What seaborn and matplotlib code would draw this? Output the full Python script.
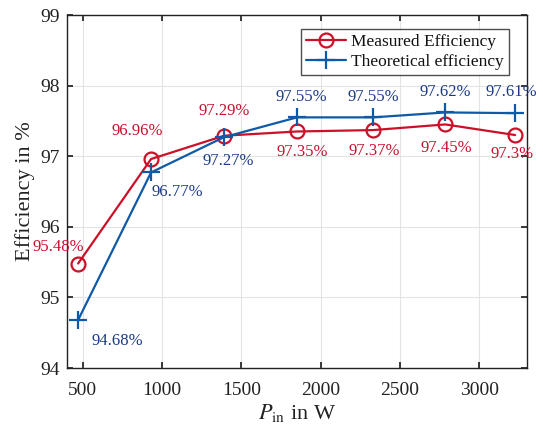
import numpy as np
import pandas as pd
import matplotlib
matplotlib.use("Agg")
import matplotlib.pyplot as plt
import seaborn as sns

# Input power (W) and efficiency (%)
p_in = [470, 930, 1390, 1850, 2330, 2785, 3225]
measured = [95.48, 96.96, 97.29, 97.35, 97.37, 97.45, 97.30]
theoretical = [94.68, 96.77, 97.27, 97.55, 97.55, 97.62, 97.61]

measured_labels = ["95.48%", "96.96%", "97.29%", "97.35%", "97.37%", "97.45%", "97.3%"]
theoretical_labels = ["94.68%", "96.77%", "97.27%", "97.55%", "97.55%", "97.62%", "97.61%"]

x_ticks = [500, 1000, 1500, 2000, 2500, 3000]
y_ticks = [94, 95, 96, 97, 98, 99]

RED = "#CC1028"
BLUE = "#0E5AA7"
RED_TXT = "#C8102E"
BLUE_TXT = "#1B3A85"

sns.set_theme(style="whitegrid")
plt.rcParams["font.family"] = ["Liberation Serif", "DejaVu Serif"]
plt.rcParams["mathtext.fontset"] = "stix"

df = pd.DataFrame({"P": p_in, "meas": measured, "theo": theoretical})

fig = plt.figure(figsize=(5.43, 4.25), dpi=100)
ax = fig.add_axes([0.1234, 0.1341, 0.8471, 0.8306])

sns.lineplot(data=df, x="P", y="meas", ax=ax, color=RED, lw=1.6,
             marker="o", markersize=10, markerfacecolor="none",
             markeredgecolor=RED, markeredgewidth=1.6,
             label="Measured Efficiency")
sns.lineplot(data=df, x="P", y="theo", ax=ax, color=BLUE, lw=1.6,
             marker="+", markersize=13, markeredgewidth=1.6,
             markeredgecolor=BLUE, label="Theoretical efficiency")

# Label offsets in points (dx, dy)
meas_off = [(-14, 12), (-10, 20), (0, 18), (4, -15), (1, -15), (1, -17), (-2, -14)]
theo_off = [(28, -15), (19, -14), (3, -17), (3, 15), (0, 15), (0, 15), (-3, 15)]

for x, y, t, (dx, dy) in zip(p_in, measured, measured_labels, meas_off):
    ax.annotate(t, (x, y), xytext=(dx, dy), textcoords="offset points",
                ha="center", va="center", color=RED_TXT, fontsize=12)
for x, y, t, (dx, dy) in zip(p_in, theoretical, theoretical_labels, theo_off):
    ax.annotate(t, (x, y), xytext=(dx, dy), textcoords="offset points",
                ha="center", va="center", color=BLUE_TXT, fontsize=12)

ax.set_xlim(400, 3300)
ax.set_ylim(94, 99)
ax.set_xticks(x_ticks)
ax.set_yticks(y_ticks)
ax.tick_params(axis="both", labelsize=14, colors="#222222", direction="in",
               length=4, top=True, right=True, bottom=True, left=True,
               labelcolor="#222222")
ax.tick_params(axis="x", pad=10)
ax.tick_params(axis="y", pad=5)
ax.set_xlabel(r"$P_{\mathrm{in}}$ in W", fontsize=16, color="#222222", labelpad=2)
ax.set_ylabel("Efficiency in %", fontsize=16, color="#222222")

ax.grid(True, color="#E3E3E3", lw=0.8)
ax.set_facecolor("white")
for s in ax.spines.values():
    s.set_color("#222222")
    s.set_linewidth(1.0)

leg = ax.legend(loc="upper right", fontsize=12.5, frameon=True, fancybox=False,
                edgecolor="#222222", handlelength=2.3, borderpad=0.3,
                labelspacing=0.2, handletextpad=0.3,
                bbox_to_anchor=(0.98, 0.985))
leg.get_frame().set_linewidth(1.0)
for txt in leg.get_texts():
    txt.set_color("#111111")

fig.savefig("out.png", dpi=100)
